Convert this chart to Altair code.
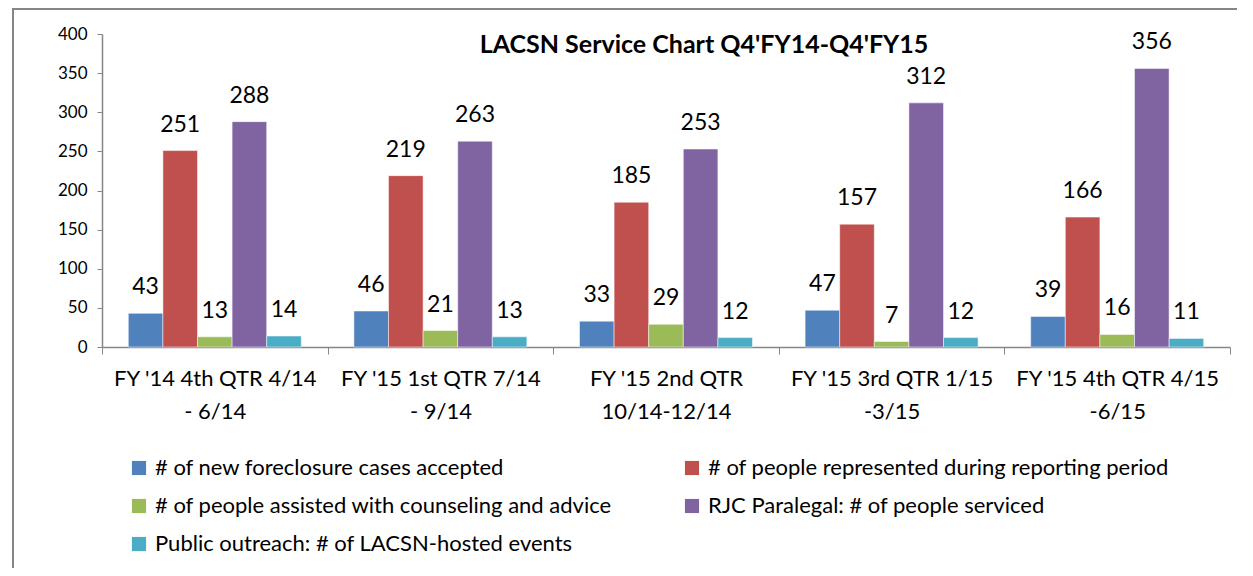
import altair as alt
import pandas as pd

categories = [
    "FY '14 4th QTR 4/14|- 6/14",
    "FY '15 1st QTR 7/14|- 9/14",
    "FY '15 2nd QTR|10/14-12/14",
    "FY '15 3rd QTR 1/15|-3/15",
    "FY '15 4th QTR 4/15|-6/15",
]
series = [
    "# of new foreclosure cases accepted",
    "# of people represented during reporting period",
    "# of people assisted with counseling and advice",
    "RJC Paralegal: # of people serviced",
    "Public outreach: # of LACSN-hosted events",
]
new_cases = [43, 46, 33, 47, 39]
represented = [251, 219, 185, 157, 166]
counseling = [13, 21, 29, 7, 16]
rjc_paralegal = [288, 263, 253, 312, 356]
outreach = [14, 13, 12, 12, 11]
colors = ["#4F81BD", "#C0504D", "#9BBB59", "#8064A2", "#4BACC6"]
title_text = "LACSN Service Chart Q4'FY14-Q4'FY15"
y_ticks = [0, 50, 100, 150, 200, 250, 300, 350, 400]

values = [new_cases, represented, counseling, rjc_paralegal, outreach]
rows = []
for s, vals in zip(series, values):
    for c, v in zip(categories, vals):
        rows.append({"period": c, "series": s, "value": v})
df = pd.DataFrame(rows)

# legend fills column by column: order so that it reads row by row
legend_order = [0, 2, 4, 1, 3]
legend_domain = [series[i] for i in legend_order]
legend_range = [colors[i] for i in legend_order]

FONT = "Lato"
GRAY = "#868686"

x_enc = alt.X(
    "period:N",
    sort=categories,
    title=None,
    scale=alt.Scale(paddingInner=0, paddingOuter=0),
    axis=alt.Axis(
        labelExpr="split(datum.label, '|')",
        labelAngle=0,
        labelFontSize=22,
        labelFont=FONT,
        labelColor="#000000",
        labelLineHeight=33,
        labelPadding=14,
        tickBand="extent",
        tickSize=7,
        tickColor=GRAY,
        domainColor=GRAY,
        domainWidth=1.5,
        labelLimit=400,
    ),
)
xoff = alt.XOffset(
    "series:N",
    sort=series,
    scale=alt.Scale(paddingOuter=0.76, paddingInner=0),
)
y_enc = alt.Y(
    "value:Q",
    title=None,
    scale=alt.Scale(domain=[0, 400], nice=False, zero=True),
    axis=alt.Axis(
        values=y_ticks,
        grid=False,
        labelOverlap=False,
        labelFontSize=17,
        labelFont=FONT,
        labelColor="#000000",
        tickSize=5,
        tickColor=GRAY,
        domainColor=GRAY,
        domainWidth=1.5,
        labelPadding=10,
    ),
)

bars = alt.Chart(df).mark_bar(stroke="white", strokeWidth=0.5).encode(
    x=x_enc,
    xOffset=xoff,
    y=y_enc,
    color=alt.Color(
        "series:N",
        scale=alt.Scale(domain=legend_domain, range=legend_range),
        legend=alt.Legend(
            title=None,
            orient="none",
            legendX=26,
            legendY=423,
            columns=2,
            gridAlign="all",
            columnPadding=65,
            rowPadding=16,
            symbolType="square",
            symbolSize=200,
            symbolStrokeWidth=0,
            labelFontSize=22,
            labelFont=FONT,
            labelColor="#000000",
            labelLimit=700,
            labelOffset=5,
        ),
    ),
)

labels = alt.Chart(df).mark_text(
    baseline="alphabetic", dy=-19, fontSize=23, font=FONT, color="#000000"
).encode(
    x=x_enc,
    xOffset=xoff,
    y=y_enc,
    text="value:Q",
)

title = alt.Chart(pd.DataFrame({"t": [title_text]})).mark_text(
    font=FONT, fontSize=25, fontWeight="bold", color="#000000",
    align="center", baseline="alphabetic",
).encode(
    text="t:N", x=alt.value(602), y=alt.value(19)
)

frame_left = alt.Chart(df).mark_rule(color=GRAY, strokeWidth=1.5).encode(
    x=alt.value(-89), y=alt.value(-26), y2=alt.value(600)
)
frame_top = alt.Chart(df).mark_rule(color=GRAY, strokeWidth=1.5).encode(
    x=alt.value(-89), x2=alt.value(1200), y=alt.value(-25)
)

chart = (
    alt.layer(frame_left, frame_top, bars, labels, title)
    .properties(
        width=1128,
        height=313,
        autosize=alt.AutoSizeParams(type="none"),
        padding={"left": 94, "top": 26, "right": 7, "bottom": 221},
    )
    .configure_view(stroke=None)
)

chart.save("out.html", embed_options={"renderer": "svg", "actions": False})
